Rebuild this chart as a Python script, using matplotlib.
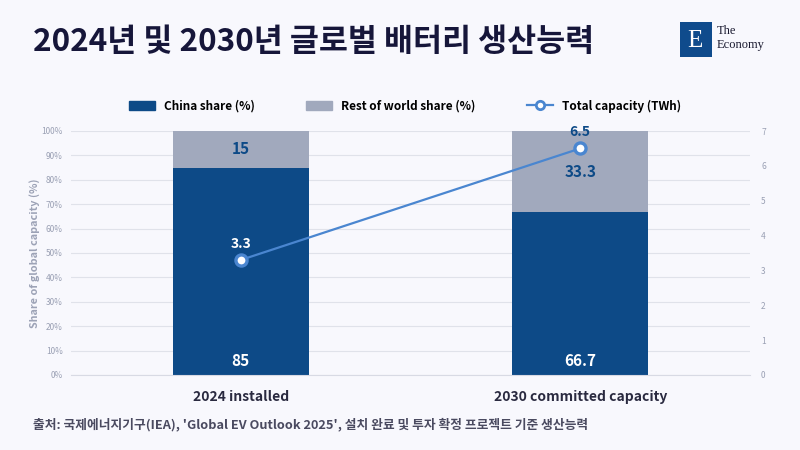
import numpy as np
import matplotlib.pyplot as plt
from matplotlib.lines import Line2D
from matplotlib.patches import Patch

plt.rcParams['font.family'] = ['Noto Sans CJK KR', 'DejaVu Sans']

categories = ['2024 installed', '2030 committed capacity']
china_share = [85, 66.7]
rest_share = [15, 33.3]
total_capacity = [3.3, 6.5]

c_china = '#0d4a87'
c_rest = '#a1a9bd'
c_line = '#4a86d0'
bg = '#f8f8fd'
tick_c = '#9aa0b4'

fig = plt.figure(figsize=(8, 4.5), dpi=100, facecolor=bg)
ax = fig.add_axes([71/800, 1-375/450, 679/800, 244/450])
ax.set_facecolor(bg)

x = np.arange(len(categories))
ax.bar(x, china_share, width=0.4, color=c_china, zorder=2)
ax.bar(x, rest_share, bottom=china_share, width=0.4, color=c_rest, zorder=2)
ax.set_xlim(-0.5, 1.5)
ax.set_ylim(0, 100)
ax.set_yticks(range(0, 101, 10))
ax.set_yticklabels([f'{v}%' for v in range(0, 101, 10)])
ax.grid(axis='y', color='#e0e2ea', linewidth=0.8, zorder=0)
ax.set_xticks(x)
ax.set_xticklabels(categories, fontsize=10, fontweight='bold', color='#2a2a40')
ax.tick_params(axis='x', length=0, pad=11)
ax.tick_params(axis='y', length=0, labelsize=6, labelcolor=tick_c, pad=6)
for s in ax.spines.values():
    s.set_visible(False)
ax.spines['bottom'].set_visible(True)
ax.spines['bottom'].set_color('#d8dae4')
ax.set_ylabel('Share of global capacity (%)', fontsize=7.8, fontweight='bold',
              color='#9ca2b6')
ax.yaxis.set_label_coords(-0.046, 0.5)

for i in range(len(categories)):
    ax.text(x[i], 2.5, f'{china_share[i]:g}', ha='center', va='bottom',
            color='white', fontsize=11, fontweight='bold', zorder=4)
    ax.text(x[i], china_share[i] + rest_share[i] / 2, f'{rest_share[i]:g}',
            ha='center', va='center', color=c_china, fontsize=11,
            fontweight='bold', zorder=4)

ax2 = ax.twinx()
ax2.set_ylim(0, 7)
ax2.set_yticks(range(0, 8))
ax2.tick_params(axis='y', length=0, labelsize=6, labelcolor=tick_c, pad=8)
for s in ax2.spines.values():
    s.set_visible(False)
ax2.plot(x, total_capacity, color=c_line, linewidth=1.6, marker='o', markersize=8,
         markerfacecolor='white', markeredgecolor=c_line, markeredgewidth=2.4, zorder=5)
label_cols = ['white', c_china]
for i in range(len(categories)):
    ax2.text(x[i], total_capacity[i] + 0.27, f'{total_capacity[i]:g}', ha='center',
             va='bottom', color=label_cols[i], fontsize=10, fontweight='bold', zorder=6)

handles = [Patch(color=c_china, label='China share (%)'),
           Patch(color=c_rest, label='Rest of world share (%)'),
           Line2D([0], [0], color=c_line, lw=1.6, marker='o', markersize=6,
                  markerfacecolor='white', markeredgewidth=2, label='Total capacity (TWh)')]
fig.legend(handles=handles, loc='center', bbox_to_anchor=(405/800, 1-106/450), ncol=3,
           frameon=False, handlelength=2.2, handleheight=0.9,
           columnspacing=4.3, prop={'weight': 'bold', 'size': 8.5})

fig.text(33/800, 1-42/450, '2024년 및 2030년 글로벌 배터리 생산능력', fontsize=22.7,
         fontweight='bold', color='#16163a', va='center', ha='left')
fig.text(33/800, 1-424/450,
         "출처: 국제에너지기구(IEA), 'Global EV Outlook 2025', 설치 완료 및 투자 확정 프로젝트 기준 생산능력",
         fontsize=9.2, fontweight='bold', color='#4a4a60', va='center', ha='left')

# logo
lax = fig.add_axes([680/800, 1-57/450, 32/800, 35/450])
lax.set_facecolor('#0f4b8c')
lax.set_xticks([])
lax.set_yticks([])
for s in lax.spines.values():
    s.set_visible(False)
lax.text(0.45, 0.45, 'E', color='white', fontsize=18, family='Liberation Serif',
         ha='center', va='center', transform=lax.transAxes)
fig.text(717/800, 1-31/450, 'The', fontsize=9, family='Liberation Serif', color='#1a1a30', va='center')
fig.text(717/800, 1-45/450, 'Economy', fontsize=9, family='Liberation Serif', color='#1a1a30', va='center')

fig.savefig('out.png', dpi=100, facecolor=bg)
